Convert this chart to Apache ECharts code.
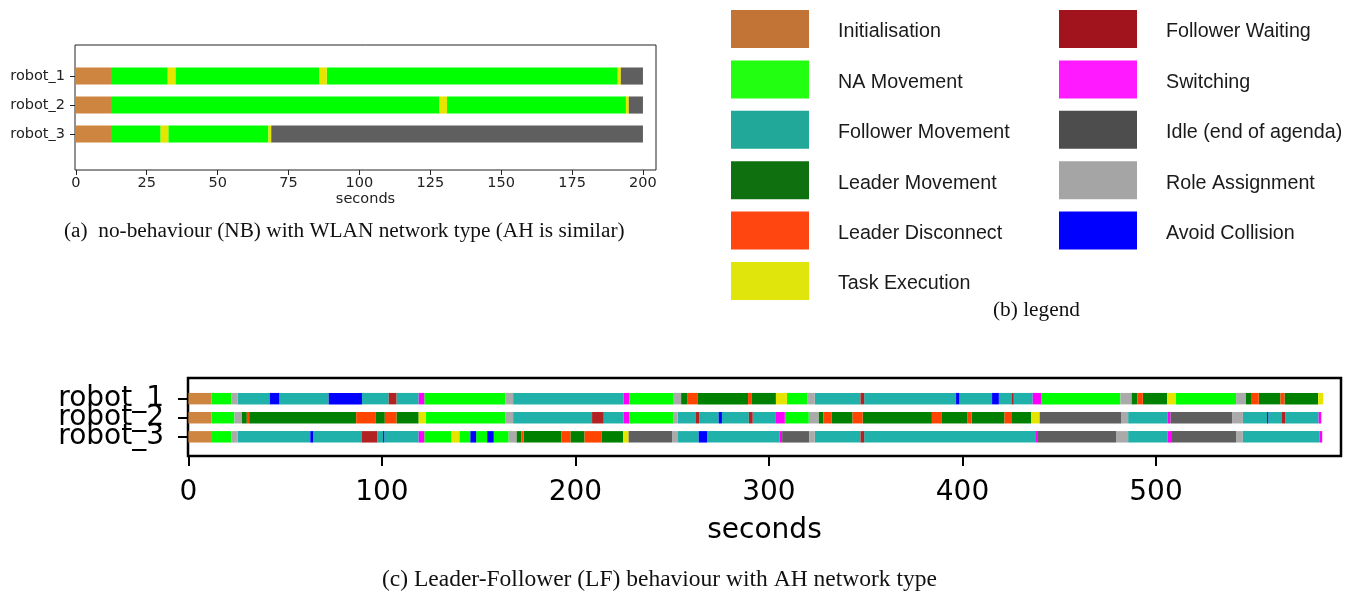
<!DOCTYPE html>
<html>
<head>
<meta charset="utf-8">
<script src="https://cdn.jsdelivr.net/npm/echarts@6/dist/echarts.min.js"></script>
<style>
  html, body { margin: 0; padding: 0; background: #fff; }
  #chart { width: 1358px; height: 591px; }
</style>
</head>
<body>
<div id="chart"></div>
<script>
// Robot rows and behaviour states
const robots = ['robot_1', 'robot_2', 'robot_3'];
const stateKeys = ['INI', 'NA', 'FOL', 'LEAD', 'DISC', 'TASK', 'WAIT', 'SW', 'IDLE', 'ROLE', 'AVOID'];
const stateNames = ['Initialisation', 'NA Movement', 'Follower Movement', 'Leader Movement',
  'Leader Disconnect', 'Task Execution', 'Follower Waiting', 'Switching',
  'Idle (end of agenda)', 'Role Assignment', 'Avoid Collision'];
const barColors = ['#cd853f', '#00ff00', '#20b2aa', '#008000', '#ff4500', '#e5e500',
  '#b22222', '#ff00ff', '#5f5f5f', '#aaaaaa', '#0000ff'];
const legendColors = ['#c17436', '#22ff11', '#21a898', '#0e700e', '#ff4510', '#e0e60c',
  '#a1141d', '#ff1aff', '#4d4d4d', '#a5a5a5', '#0000ff'];

// Axis ticks
const nbTicks = [0, 25, 50, 75, 100, 125, 150, 175, 200];
const lfTicks = [0, 100, 200, 300, 400, 500];
const rowTicks = [1, 2, 3];

// (a) no-behaviour run: [state, start s, end s]
const nbRobot1 = [['INI', 0, 12.4], ['NA', 12.4, 32.4], ['TASK', 32.4, 35.1], ['NA', 35.1, 85.8],
  ['TASK', 85.8, 88.5], ['NA', 88.5, 191.1], ['TASK', 191.1, 192.2], ['IDLE', 192.2, 200]];
const nbRobot2 = [['INI', 0, 12.4], ['NA', 12.4, 128.1], ['TASK', 128.1, 130.9], ['NA', 130.9, 194.0],
  ['TASK', 194.0, 195.0], ['IDLE', 195.0, 200]];
const nbRobot3 = [['INI', 0, 12.4], ['NA', 12.4, 29.9], ['TASK', 29.9, 32.6], ['NA', 32.6, 67.9],
  ['TASK', 67.9, 68.9], ['IDLE', 68.9, 200]];

// (c) leader-follower run: [state, start s, end s]
const lfRobot1 = [['INI', 0, 11.9], ['NA', 11.9, 22.2], ['ROLE', 22.2, 25.5], ['FOL', 25.5, 42.0],
  ['AVOID', 42.0, 47.0], ['FOL', 47.0, 72.5], ['AVOID', 72.5, 89.7], ['FOL', 89.7, 103.5],
  ['WAIT', 103.5, 107.5], ['FOL', 107.5, 119.0], ['SW', 119.0, 121.9], ['NA', 121.9, 163.8],
  ['ROLE', 163.8, 167.8], ['FOL', 167.8, 224.9], ['SW', 224.9, 227.9], ['NA', 227.9, 250.8],
  ['ROLE', 250.8, 254.6], ['LEAD', 254.6, 257.7], ['DISC', 257.7, 263.3], ['LEAD', 263.3, 289.2],
  ['DISC', 289.2, 291.2], ['LEAD', 291.2, 303.6], ['TASK', 303.6, 309.3], ['NA', 309.3, 320.0],
  ['ROLE', 320.0, 323.7], ['FOL', 323.7, 347.3], ['WAIT', 347.3, 349.2], ['FOL', 349.2, 396.7],
  ['AVOID', 396.7, 398.4], ['FOL', 398.4, 415.3], ['AVOID', 415.3, 418.8], ['FOL', 418.8, 425.6],
  ['WAIT', 425.6, 426.5], ['FOL', 426.5, 436.3], ['SW', 436.3, 440.6], ['NA', 440.6, 481.6],
  ['ROLE', 481.6, 487.3], ['LEAD', 487.3, 490.3], ['DISC', 490.3, 493.2], ['LEAD', 493.2, 505.8],
  ['TASK', 505.8, 510.1], ['NA', 510.1, 541.4], ['ROLE', 541.4, 546.5], ['LEAD', 546.5, 549.1],
  ['DISC', 549.1, 553.1], ['LEAD', 553.1, 564.3], ['DISC', 564.3, 566.4], ['LEAD', 566.4, 583.8],
  ['TASK', 583.8, 586.4]];
const lfRobot2 = [['INI', 0, 11.9], ['NA', 11.9, 23.8], ['ROLE', 23.8, 27.7], ['LEAD', 27.7, 30.2],
  ['DISC', 30.2, 31.4], ['LEAD', 31.4, 86.7], ['DISC', 86.7, 96.6], ['LEAD', 96.6, 101.5],
  ['DISC', 101.5, 107.5], ['LEAD', 107.5, 119.0], ['TASK', 119.0, 122.8], ['NA', 122.8, 163.8],
  ['ROLE', 163.8, 167.8], ['FOL', 167.8, 208.6], ['WAIT', 208.6, 214.6], ['FOL', 214.6, 224.9],
  ['SW', 224.9, 227.9], ['NA', 227.9, 250.8], ['ROLE', 250.8, 252.8], ['FOL', 252.8, 262.3],
  ['WAIT', 262.3, 264.0], ['FOL', 264.0, 274.0], ['AVOID', 274.0, 275.7], ['FOL', 275.7, 289.6],
  ['WAIT', 289.6, 291.6], ['FOL', 291.6, 303.6], ['SW', 303.6, 308.2], ['NA', 308.2, 320.6],
  ['ROLE', 320.6, 325.6], ['LEAD', 325.6, 328.2], ['DISC', 328.2, 332.5], ['LEAD', 332.5, 343.2],
  ['DISC', 343.2, 348.4], ['LEAD', 348.4, 384.2], ['DISC', 384.2, 389.4], ['LEAD', 389.4, 402.4],
  ['DISC', 402.4, 404.7], ['LEAD', 404.7, 421.7], ['DISC', 421.7, 425.6], ['LEAD', 425.6, 435.4],
  ['TASK', 435.4, 439.9], ['IDLE', 439.9, 482.2], ['ROLE', 482.2, 485.6], ['FOL', 485.6, 506.1],
  ['SW', 506.1, 507.5], ['IDLE', 507.5, 539.3], ['ROLE', 539.3, 544.9], ['FOL', 544.9, 557.4],
  ['AVOID', 557.4, 558.0], ['FOL', 558.0, 565.1], ['WAIT', 565.1, 566.9], ['FOL', 566.9, 584.0],
  ['SW', 584.0, 585.4]];
const lfRobot3 = [['INI', 0, 11.7], ['NA', 11.7, 22.2], ['ROLE', 22.2, 25.5], ['FOL', 25.5, 63.0],
  ['AVOID', 63.0, 64.4], ['FOL', 64.4, 89.7], ['WAIT', 89.7, 97.6], ['FOL', 97.6, 100.6],
  ['AVOID', 100.6, 101.2], ['FOL', 101.2, 119.0], ['SW', 119.0, 121.9], ['NA', 121.9, 135.9],
  ['TASK', 135.9, 140.0], ['NA', 140.0, 145.7], ['AVOID', 145.7, 148.7], ['NA', 148.7, 154.4],
  ['AVOID', 154.4, 157.8], ['NA', 157.8, 165.5], ['ROLE', 165.5, 169.5], ['LEAD', 169.5, 172.1],
  ['DISC', 172.1, 173.3], ['LEAD', 173.3, 192.8], ['DISC', 192.8, 197.4], ['LEAD', 197.4, 204.7],
  ['DISC', 204.7, 213.4], ['LEAD', 213.4, 224.6], ['TASK', 224.6, 227.5], ['IDLE', 227.5, 249.9],
  ['ROLE', 249.9, 253.0], ['FOL', 253.0, 263.7], ['AVOID', 263.7, 268.0], ['FOL', 268.0, 305.6],
  ['SW', 305.6, 306.8], ['IDLE', 306.8, 320.9], ['ROLE', 320.9, 323.7], ['FOL', 323.7, 347.3],
  ['WAIT', 347.3, 349.2], ['FOL', 349.2, 438.0], ['SW', 438.0, 439.0], ['IDLE', 439.0, 479.6],
  ['ROLE', 479.6, 485.6], ['FOL', 485.6, 506.1], ['SW', 506.1, 507.8], ['IDLE', 507.8, 541.6],
  ['ROLE', 541.6, 544.9], ['FOL', 544.9, 584.5], ['SW', 584.5, 585.9]];

const nbRuns = [nbRobot1, nbRobot2, nbRobot3];
const lfRuns = [lfRobot1, lfRobot2, lfRobot3];

// Draws one timeline segment as a horizontal rectangle centred on its robot row
function segmentRenderer(barHeight) {
  return function (params, api) {
    const row = api.value(2);
    const a = api.coord([api.value(0), row]);
    const b = api.coord([api.value(1), row]);
    const h = api.size([0, barHeight])[1];
    return {
      type: 'rect',
      shape: { x: a[0], y: a[1] - h / 2, width: b[0] - a[0], height: h },
      style: { fill: api.visual('color') }
    };
  };
}

// One custom series per state and per panel
function buildSeries(runs, axisIndex, barHeight) {
  const out = [];
  stateKeys.forEach((key, si) => {
    const data = [];
    runs.forEach((segs, ri) => {
      segs.forEach(s => { if (s[0] === key) data.push([s[1], s[2], ri + 1]); });
    });
    if (!data.length) return;
    out.push({
      type: 'custom',
      name: stateNames[si],
      xAxisIndex: axisIndex,
      yAxisIndex: axisIndex,
      itemStyle: { color: barColors[si] },
      encode: { x: [0, 1], y: 2 },
      renderItem: segmentRenderer(barHeight),
      data: data,
      silent: true
    });
  });
  return out;
}

const robotLabel = v => robots[Math.round(v) - 1] || '';
const legendItem = i => ({ name: stateNames[i], itemStyle: { color: legendColors[i] } });
const legendBase = {
  orient: 'vertical', top: 10, itemWidth: 78, itemHeight: 38, itemGap: 12.4,
  icon: 'rect', selectedMode: false, padding: 0,
  formatter: '{t|{name}}',
  textStyle: {
    fontFamily: 'Liberation Sans', fontSize: 19.7, color: '#1a1a1a', padding: [0, 0, 0, 24],
    rich: { t: { fontFamily: 'Liberation Sans', fontSize: 19.7, color: '#1a1a1a', padding: [6, 0, 0, 0] } }
  }
};
const captionStyle = { fontFamily: 'Liberation Serif', fontSize: 21.3, fontWeight: 'normal', color: '#111' };

// Row positions of panel (c), shared by the data grid and its label strip
const lfTop = 378, lfHeight = 78, lfMin = -0.083, lfMax = 4.005;
const lfPx = lfHeight / (lfMax - lfMin);

const chart = echarts.init(document.getElementById('chart'), null, { renderer: 'canvas' });
chart.setOption({
  animation: false,
  backgroundColor: '#fff',
  title: [
    { text: '(a)  no-behaviour (NB) with WLAN network type (AH is similar)', left: 64, top: 221, padding: 0, textStyle: captionStyle },
    { text: '(b) legend', left: 993, top: 300, padding: 0, textStyle: captionStyle },
    { text: '(c) Leader-Follower (LF) behaviour with AH network type', left: 382, top: 568, padding: 0,
      textStyle: Object.assign({}, captionStyle, { fontSize: 23.5 }) }
  ],
  legend: [
    Object.assign({}, legendBase, { left: 731, data: [0, 1, 2, 3, 4, 5].map(legendItem) }),
    Object.assign({}, legendBase, { left: 1059, data: [6, 7, 8, 9, 10].map(legendItem) })
  ],
  grid: [
    { left: 75, top: 45, width: 581, height: 125, show: true, borderColor: '#222', borderWidth: 1, backgroundColor: '#fff' },
    { left: 188, top: lfTop, width: 1153, height: lfHeight, show: true, borderColor: '#000', borderWidth: 2.5, backgroundColor: '#fff' },
    // label strip: one category band per robot row of panel (c)
    { left: 188, top: lfTop + (0.5 - lfMin) * lfPx, width: 1153, height: 3 * lfPx, show: false }
  ],
  xAxis: [
    {
      gridIndex: 0, type: 'value', min: -0.3, max: 204.6,
      axisLine: { show: false, onZero: false },
      axisTick: { customValues: nbTicks, length: 5, lineStyle: { color: '#222' } },
      axisLabel: { customValues: nbTicks, fontFamily: 'DejaVu Sans', fontSize: 14.5, color: '#222', margin: 6, hideOverlap: false },
      splitLine: { show: false },
      name: 'seconds', nameLocation: 'middle', nameGap: 22,
      nameTextStyle: { fontFamily: 'DejaVu Sans', fontSize: 14.5, color: '#222' }
    },
    {
      gridIndex: 1, type: 'value', min: -0.2, max: 595.6,
      axisLine: { show: false, onZero: false },
      axisTick: { customValues: lfTicks, length: 10, lineStyle: { color: '#000', width: 2 } },
      axisLabel: { customValues: lfTicks, fontFamily: 'DejaVu Sans', fontSize: 28, color: '#000', margin: 23, hideOverlap: false },
      splitLine: { show: false },
      name: 'seconds', nameLocation: 'middle', nameGap: 61,
      nameTextStyle: { fontFamily: 'DejaVu Sans', fontSize: 28, color: '#000' }
    },
    { gridIndex: 2, type: 'value', show: false }
  ],
  yAxis: [
    {
      gridIndex: 0, type: 'value', inverse: true, min: -0.07, max: 4.24,
      axisLine: { show: false, onZero: false },
      axisTick: { customValues: rowTicks, length: 5, lineStyle: { color: '#222' } },
      axisLabel: { customValues: rowTicks, formatter: robotLabel, fontFamily: 'DejaVu Sans', fontSize: 14.5, color: '#222', margin: 10, hideOverlap: false },
      splitLine: { show: false }
    },
    {
      gridIndex: 1, type: 'value', inverse: true, min: lfMin, max: lfMax,
      axisLine: { show: false, onZero: false },
      axisTick: { show: false },
      axisLabel: { show: false },
      splitLine: { show: false }
    },
    {
      gridIndex: 2, type: 'category', inverse: true, data: robots,
      axisLine: { show: false, onZero: false },
      axisTick: { show: true, alignWithLabel: true, interval: 0, length: 10, lineStyle: { color: '#000', width: 2 } },
      axisLabel: { interval: 0, fontFamily: 'DejaVu Sans', fontSize: 28, color: '#000', margin: 24,
        padding: [4, 0, 0, 0], hideOverlap: false },
      splitLine: { show: false }
    }
  ],
  series: buildSeries(nbRuns, 0, 0.59).concat(buildSeries(lfRuns, 1, 0.6))
});
</script>
</body>
</html>
